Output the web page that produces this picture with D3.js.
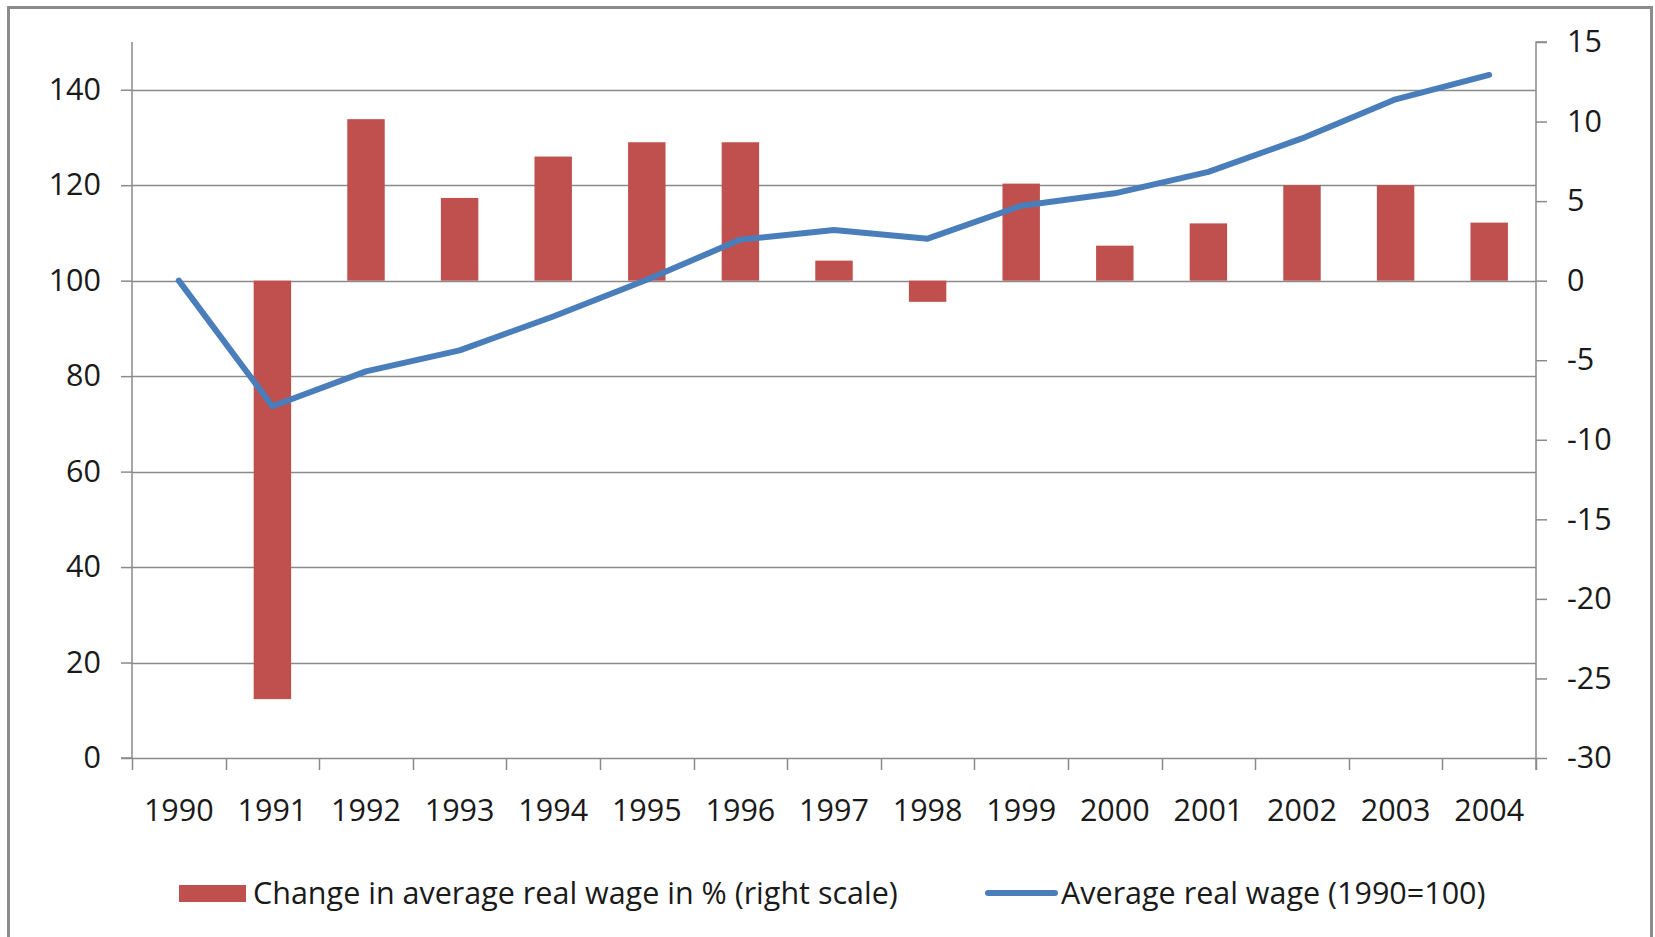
<!DOCTYPE html>
<html>
<head>
<meta charset="utf-8">
<script src="https://cdn.jsdelivr.net/npm/d3@7"></script>
<style>
  html, body { margin: 0; padding: 0; background: #fff; }
  svg text { font-family: "Open Sans", "Noto Sans", sans-serif; fill: #1a1a1a; }
</style>
</head>
<body>
<div id="chart"></div>
<script>
// years on the category axis
var years = ["1990","1991","1992","1993","1994","1995","1996","1997","1998","1999","2000","2001","2002","2003","2004"];

// average real wage, 1990 = 100 (left scale)
var realWage = [100, 73.7, 81.0, 85.4, 92.5, 100.2, 108.6, 110.6, 108.8, 115.7, 118.3, 122.8, 129.8, 138.0, 143.1];

// change in average real wage in % (right scale); no bar for 1990
var wageChange = [null, -26.3, 10.15, 5.2, 7.8, 8.7, 8.7, 1.26, -1.33, 6.1, 2.2, 3.6, 6.0, 6.0, 3.65];

var leftTicks = [0, 20, 40, 60, 80, 100, 120, 140];
var rightTicks = [-30, -25, -20, -15, -10, -5, 0, 5, 10, 15];

var barLabel = "Change in average real wage in % (right scale)";
var lineLabel = "Average real wage (1990=100)";

var width = 1655, height = 937;
var plotLeft = 132, plotRight = 1536, plotTop = 42, plotBottom = 758;
var gridColor = "#8a8a8a";
var fontSize = 30.5;

var svg = d3.select("#chart").append("svg")
    .attr("width", width)
    .attr("height", height);

// outer frame
svg.append("rect")
    .attr("x", 8.5).attr("y", 7.5)
    .attr("width", 1643).attr("height", 960)
    .attr("fill", "#fff")
    .attr("stroke", "#8c8c8c")
    .attr("stroke-width", 3);

var x = d3.scaleBand().domain(years).range([plotLeft, plotRight]).paddingInner(0).paddingOuter(0);
var yLeft = d3.scaleLinear().domain([0, 150]).range([plotBottom, plotTop]);
var yRight = d3.scaleLinear().domain([-30, 15]).range([plotBottom, plotTop]);

// horizontal gridlines from left scale
svg.append("g")
    .selectAll("line")
    .data(leftTicks.filter(function (d) { return d > 0; }))
    .enter().append("line")
    .attr("x1", plotLeft).attr("x2", plotRight)
    .attr("y1", function (d) { return Math.round(yLeft(d)) + 0.5; })
    .attr("y2", function (d) { return Math.round(yLeft(d)) + 0.5; })
    .attr("stroke", gridColor)
    .attr("stroke-width", 1.5);

// bars
var barW = x.bandwidth() * 0.4;
svg.append("g")
    .selectAll("rect")
    .data(wageChange.map(function (v, i) { return {year: years[i], v: v}; }).filter(function (d) { return d.v !== null; }))
    .enter().append("rect")
    .attr("x", function (d) { return x(d.year) + (x.bandwidth() - barW) / 2; })
    .attr("width", barW)
    .attr("y", function (d) { return yRight(Math.max(0, d.v)); })
    .attr("height", function (d) { return Math.abs(yRight(d.v) - yRight(0)); })
    .attr("fill", "#C0504D");

// plain hyphen for negatives, like the original
var fmt = function (d) { return String(d); };

// left axis
var leftAxis = d3.axisLeft(yLeft).tickValues(leftTicks).tickSize(11).tickPadding(20).tickFormat(fmt);
var gl = svg.append("g").attr("transform", "translate(" + plotLeft + ",0)").call(leftAxis);

// right axis
var rightAxis = d3.axisRight(yRight).tickValues(rightTicks).tickSize(11).tickPadding(20).tickFormat(fmt);
var gr = svg.append("g").attr("transform", "translate(" + plotRight + ",0)").call(rightAxis);

// category axis, ticks on band edges
var edges = years.map(function (d) { return x(d); }).concat([plotRight]);
var gx = svg.append("g");
gx.append("line")
    .attr("x1", plotLeft).attr("x2", plotRight)
    .attr("y1", plotBottom + 0.5).attr("y2", plotBottom + 0.5)
    .attr("stroke", gridColor).attr("stroke-width", 1.5);
gx.selectAll("line.tk").data(edges).enter().append("line")
    .attr("class", "tk")
    .attr("x1", function (d) { return Math.round(d) + 0.5; })
    .attr("x2", function (d) { return Math.round(d) + 0.5; })
    .attr("y1", plotBottom).attr("y2", plotBottom + 12)
    .attr("stroke", gridColor).attr("stroke-width", 1.5);
gx.selectAll("text").data(years).enter().append("text")
    .attr("x", function (d) { return x(d) + x.bandwidth() / 2; })
    .attr("y", 810)
    .attr("dy", "0.35em")
    .attr("text-anchor", "middle")
    .attr("font-size", fontSize)
    .text(function (d) { return d; });

[gl, gr].forEach(function (g) {
    g.select(".domain").attr("stroke", gridColor).attr("stroke-width", 1.5);
    g.selectAll(".tick line").attr("stroke", gridColor).attr("stroke-width", 1.5);
    g.selectAll(".tick text").attr("font-size", fontSize).attr("fill", "#1a1a1a")
        .style("font-family", "'Open Sans', 'Noto Sans', sans-serif");
});
gl.select(".domain").attr("d", "M-11," + plotBottom + "H0V" + plotTop);
gr.select(".domain").attr("d", "M11," + plotTop + "H0V" + (plotBottom + 12));

// line
var line = d3.line()
    .x(function (d, i) { return x(years[i]) + x.bandwidth() / 2; })
    .y(function (d) { return yLeft(d); });
svg.append("path")
    .datum(realWage)
    .attr("d", line)
    .attr("fill", "none")
    .attr("stroke", "#4A7EBB")
    .attr("stroke-width", 6)
    .attr("stroke-linejoin", "round")
    .attr("stroke-linecap", "round");

// legend
var lg = svg.append("g");
lg.append("rect")
    .attr("x", 179).attr("y", 885).attr("width", 67).attr("height", 17)
    .attr("fill", "#C0504D");
lg.append("text")
    .attr("x", 253).attr("y", 893).attr("dy", "0.35em")
    .attr("font-size", fontSize)
    .text(barLabel);
lg.append("line")
    .attr("x1", 988).attr("x2", 1055).attr("y1", 893).attr("y2", 893)
    .attr("stroke", "#4A7EBB").attr("stroke-width", 6).attr("stroke-linecap", "round");
lg.append("text")
    .attr("x", 1061).attr("y", 893).attr("dy", "0.35em")
    .attr("font-size", fontSize)
    .text(lineLabel);
</script>
</body>
</html>
